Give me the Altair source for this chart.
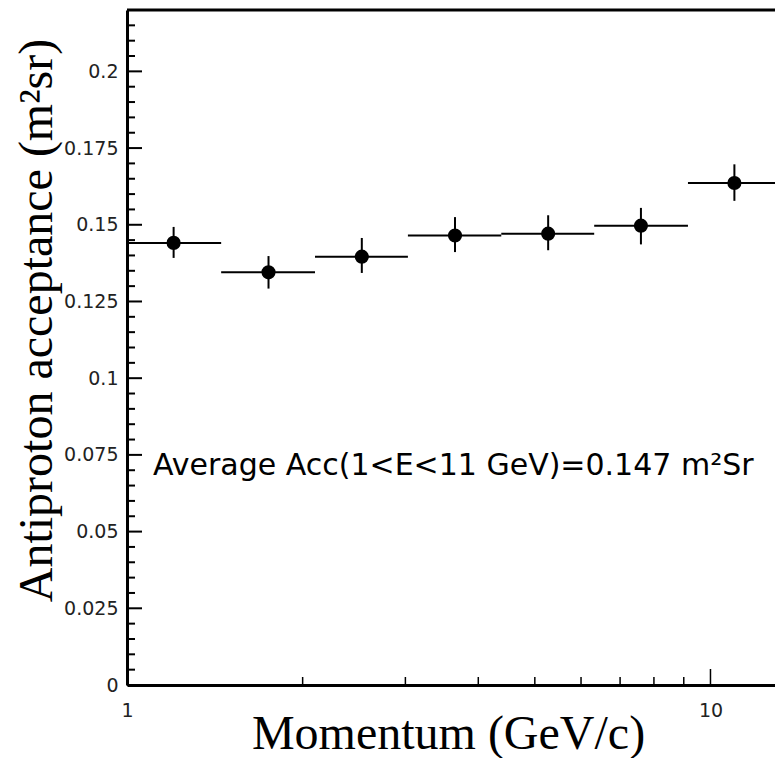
import altair as alt
import pandas as pd

# ---- data ----
momentum = [1.202, 1.748, 2.526, 3.649, 5.27, 7.6, 10.99]
bin_lo = [1.0, 1.45, 2.1, 3.03, 4.38, 6.32, 9.15]
bin_hi = [1.45, 2.1, 3.03, 4.38, 6.32, 9.15, 13.2]
acceptance = [0.1441, 0.1345, 0.1396, 0.1465, 0.1471, 0.1497, 0.1636]
err_lo = [0.1392, 0.1292, 0.1343, 0.1411, 0.1417, 0.1436, 0.1578]
err_hi = [0.1493, 0.1398, 0.1457, 0.1525, 0.1531, 0.1555, 0.1697]

y_major = [0, 0.025, 0.05, 0.075, 0.1, 0.125, 0.15, 0.175, 0.2]
y_minor = [0.005, 0.01, 0.015, 0.02, 0.03, 0.035, 0.04, 0.045, 0.055, 0.06,
           0.065, 0.07, 0.08, 0.085, 0.09, 0.095, 0.105, 0.11, 0.115, 0.12,
           0.13, 0.135, 0.14, 0.145, 0.155, 0.16, 0.165, 0.17, 0.18, 0.185,
           0.19, 0.195, 0.205, 0.21, 0.215]
x_labels = [1, 10]
x_minor = [2, 3, 4, 5, 6, 7, 8, 9]
x_major = [10]

note_text = ["Average Acc(1<E<11 GeV)=0.147 m²Sr"]
note_x = [1.108]
note_y = [0.0686]

X_DOMAIN = [1, 12.9]
Y_DOMAIN = [0, 0.22]
W, H = 648, 675

df = pd.DataFrame({"p": momentum, "lo": bin_lo, "hi": bin_hi,
                   "acc": acceptance, "elo": err_lo, "ehi": err_hi})

xs = alt.Scale(type="log", domain=X_DOMAIN, nice=False)
ys = alt.Scale(domain=Y_DOMAIN, nice=False, zero=False)

x_axis = alt.Axis(values=x_labels, labelExpr="format(datum.value, '~g')",
                  title="Momentum (GeV/c)",
                  titleX=321, titleY=63, titleAlign="center",
                  titleBaseline="alphabetic")
y_axis = alt.Axis(values=y_major, labelExpr="format(datum.value, '~g')",
                  title="Antiproton acceptance (m²sr)",
                  titleAngle=270, titleX=-76, titleY=310, titleAlign="center",
                  titleBaseline="alphabetic")

base = alt.Chart(df)

bins = base.mark_rule(color="black", strokeWidth=2, clip=True).encode(
    x=alt.X("lo:Q", scale=xs, axis=x_axis),
    x2="hi:Q",
    y=alt.Y("acc:Q", scale=ys, axis=y_axis),
)
errs = base.mark_rule(color="black", strokeWidth=2).encode(
    x=alt.X("p:Q", scale=xs, axis=x_axis),
    y=alt.Y("elo:Q", scale=ys, axis=y_axis),
    y2="ehi:Q",
)
pts = base.mark_circle(color="black", opacity=1, size=200).encode(
    x=alt.X("p:Q", scale=xs, axis=x_axis),
    y=alt.Y("acc:Q", scale=ys, axis=y_axis),
)

ymaj = alt.Chart(pd.DataFrame({"v": y_major})).mark_rule(color="black", strokeWidth=2).encode(
    y=alt.Y("v:Q", scale=ys, axis=y_axis), x=alt.value(0), x2=alt.value(15))
ymin = alt.Chart(pd.DataFrame({"v": y_minor})).mark_rule(color="black", strokeWidth=2).encode(
    y=alt.Y("v:Q", scale=ys, axis=y_axis), x=alt.value(0), x2=alt.value(8))
xmin = alt.Chart(pd.DataFrame({"v": x_minor})).mark_rule(color="black", strokeWidth=1.5).encode(
    x=alt.X("v:Q", scale=xs, axis=x_axis), y=alt.value(H), y2=alt.value(H - 8))
xmaj = alt.Chart(pd.DataFrame({"v": x_major})).mark_rule(color="black", strokeWidth=1.5).encode(
    x=alt.X("v:Q", scale=xs, axis=x_axis), y=alt.value(H), y2=alt.value(H - 16))

top = alt.Chart(pd.DataFrame({"v": [0]})).mark_rule(color="black", strokeWidth=3).encode(
    x=alt.value(0), x2=alt.value(W), y=alt.value(0))

note = alt.Chart(pd.DataFrame({"t": note_text, "x": note_x, "y": note_y})).mark_text(
    align="left", baseline="alphabetic", font="DejaVu Sans", fontSize=30, color="black"
).encode(
    x=alt.X("x:Q", scale=xs, axis=x_axis),
    y=alt.Y("y:Q", scale=ys, axis=y_axis),
    text="t:N",
)

chart = alt.layer(bins, errs, pts, ymaj, ymin, xmin, xmaj, top, note).properties(
    width=W, height=H,
    autosize=alt.AutoSizeParams(type="none"),
    padding={"left": 127, "top": 10, "right": 0, "bottom": 73},
).configure_view(stroke=None).configure(background="white").configure_axis(
    ticks=False, grid=False,
    labelFont="DejaVu Sans", labelFontSize=19, labelColor="#222",
    domainColor="black", domainWidth=3,
    titleFont="Liberation Serif", titleFontSize=48, titleFontWeight="normal",
    titleColor="black",
).configure_axisX(labelPadding=16, labelFlush=False).configure_axisY(labelPadding=9)

chart.save("out.html", embed_options={"renderer": "svg", "actions": False})
